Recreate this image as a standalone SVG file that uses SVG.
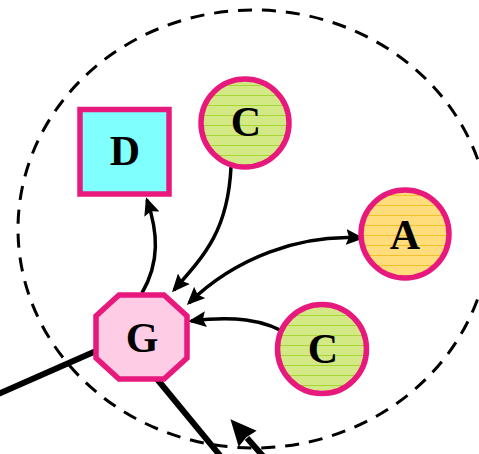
<svg xmlns="http://www.w3.org/2000/svg" width="479" height="454" viewBox="0 0 479 454">
<style>
.node{stroke:#e8197d;stroke-width:5.5}
.lbl{font-family:"Liberation Serif","Times New Roman",serif;font-weight:bold;font-size:42px;fill:#000;text-anchor:middle}
.edge{fill:none;stroke:#000;stroke-width:3.5}
.thick{fill:none;stroke:#000;stroke-width:6}
</style>
<defs>
<pattern id="pg" patternUnits="userSpaceOnUse" width="10" height="10">
<rect width="10" height="10" fill="#d2e985"/>
<rect y="5" width="10" height="1" fill="#a9d435"/>
</pattern>
<pattern id="py" patternUnits="userSpaceOnUse" width="10" height="10">
<rect width="10" height="10" fill="#ffdc7c"/>
<rect y="5" width="10" height="1" fill="#f4c12a"/>
</pattern>
<marker id="ah" markerUnits="userSpaceOnUse" markerWidth="18" markerHeight="16" viewBox="0 0 18 16" refX="15" refY="8" orient="auto-start-reverse">
<path d="M0,0 L18,8 L0,16 L3,8 z" fill="#000"/>
</marker>
<marker id="big" markerUnits="userSpaceOnUse" markerWidth="26" markerHeight="26" viewBox="0 0 26 26" refX="1" refY="13" orient="auto">
<path d="M0,1 L26,13 L0,25 L2,13 z" fill="#000"/>
</marker>
</defs>
<ellipse cx="254" cy="229" rx="236" ry="219" fill="none" stroke="#000" stroke-width="3" stroke-dasharray="14 10"/>
<g id="connectors">
<path class="edge" d="M142,293 C160,262 158,232 147,200" marker-end="url(#ah)"/>
<path class="edge" d="M231,167 C228,230 205,255 174,290" marker-end="url(#ah)"/>
<path class="edge" d="M361,238 C300,234 235,258 189,303" marker-start="url(#ah)" marker-end="url(#ah)"/>
<path class="edge" d="M292,337 C265,318 230,316 191,321" marker-end="url(#ah)"/>
<path class="thick" d="M96,351 L-4,395"/>
<path class="thick" d="M157,379 L227,464"/>
<path class="thick" d="M270,464 L247,438" marker-end="url(#big)"/>
</g>
<g id="D">
<rect class="node" x="80" y="109.5" width="89" height="84.5" fill="#80ffff"/>
<text class="lbl" x="125" y="165">D</text>
</g>
<g id="C1">
<circle class="node" cx="245" cy="123" r="44" fill="url(#pg)"/>
<text class="lbl" x="246" y="136">C</text>
</g>
<g id="A">
<circle class="node" cx="405" cy="234" r="44" fill="url(#py)"/>
<text class="lbl" x="405" y="249">A</text>
</g>
<g id="C2">
<circle class="node" cx="322" cy="349" r="44.5" fill="url(#pg)"/>
<text class="lbl" x="323" y="363">C</text>
</g>
<g id="G">
<polygon class="node" points="119,295 164,295 187,316 187,358 164,379 119,379 96,358 96,316" fill="#ffcce6"/>
<text class="lbl" x="142" y="352">G</text>
</g>
</svg>
